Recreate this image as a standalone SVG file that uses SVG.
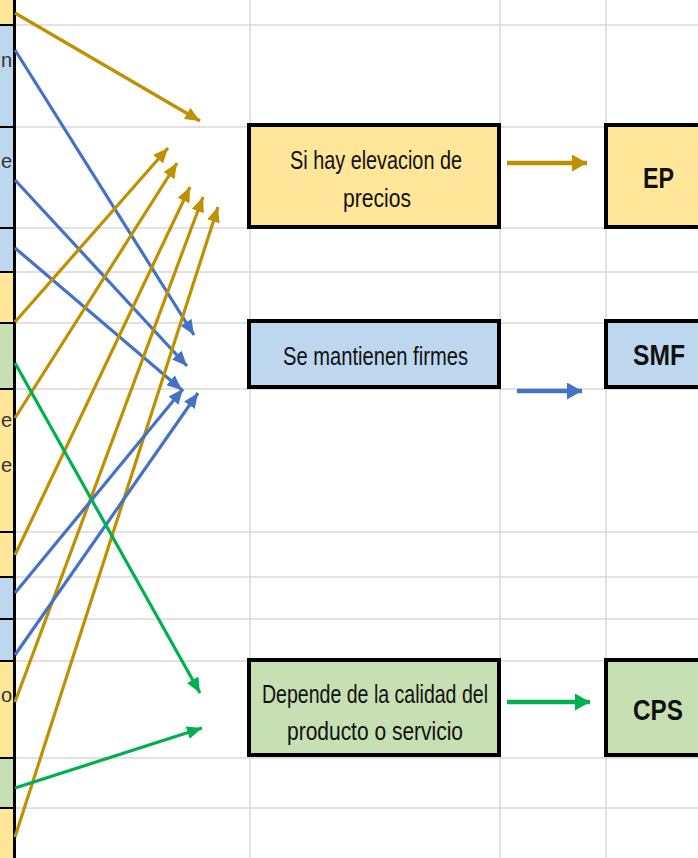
<svg xmlns="http://www.w3.org/2000/svg" width="698" height="858" viewBox="0 0 698 858">
<defs>
<style>
.grid{stroke:#D9D9D9;stroke-width:1.5;fill:none}
.cellb{stroke:#000;stroke-width:2}
.box{stroke:#000;stroke-width:4}
.y{fill:#FFE699}.b{fill:#BDD7EE}.g{fill:#C6E0B4}
.t{font-family:"Liberation Sans",Arial,sans-serif;font-size:26px;fill:#111;text-anchor:start}
.lb{font-family:"Liberation Sans",Arial,sans-serif;font-size:29px;font-weight:bold;fill:#111}
.frag{font-family:"Liberation Sans",Arial,sans-serif;font-size:20px;fill:#333;text-anchor:end}
.gold{stroke:#BF9000;stroke-width:3.2;fill:none}
.blue{stroke:#4472C4;stroke-width:3.2;fill:none}
.green{stroke:#00B050;stroke-width:3.2;fill:none}
.thick{stroke-width:4.5}
</style>
<marker id="ag" markerUnits="userSpaceOnUse" markerWidth="15" markerHeight="13" refX="15" refY="6.5" orient="auto"><path d="M0,0 L15,6.5 L0,13 z" fill="#BF9000"/></marker>
<marker id="ab" markerUnits="userSpaceOnUse" markerWidth="15" markerHeight="13" refX="15" refY="6.5" orient="auto"><path d="M0,0 L15,6.5 L0,13 z" fill="#4472C4"/></marker>
<marker id="an" markerUnits="userSpaceOnUse" markerWidth="15" markerHeight="13" refX="15" refY="6.5" orient="auto"><path d="M0,0 L15,6.5 L0,13 z" fill="#00B050"/></marker>
<marker id="agL" markerUnits="userSpaceOnUse" markerWidth="15" markerHeight="17" refX="15" refY="8.5" orient="auto"><path d="M0,0 L15,8.5 L0,17 z" fill="#BF9000"/></marker>
<marker id="abL" markerUnits="userSpaceOnUse" markerWidth="15" markerHeight="17" refX="15" refY="8.5" orient="auto"><path d="M0,0 L15,8.5 L0,17 z" fill="#4472C4"/></marker>
<marker id="anL" markerUnits="userSpaceOnUse" markerWidth="15" markerHeight="17" refX="15" refY="8.5" orient="auto"><path d="M0,0 L15,8.5 L0,17 z" fill="#00B050"/></marker>
</defs>
<rect x="0" y="0" width="698" height="858" fill="#fff"/>
<g id="grid" class="grid">
<path d="M14,25H698M14,127H698M14,228H698M14,272H698M14,323H698M14,389H698M14,532H698M14,577H698M14,619H698M14,661H698M14,758H698M14,808H698"/>
<path d="M250,0V858M500,0V858M606,0V858"/>
</g>
<g id="left-column">
<rect class="y" x="0" y="0" width="14" height="25"/>
<rect class="b" x="0" y="25" width="14" height="102"/>
<rect class="b" x="0" y="127" width="14" height="101"/>
<rect class="b" x="0" y="228" width="14" height="44"/>
<rect class="y" x="0" y="272" width="14" height="51"/>
<rect class="g" x="0" y="323" width="14" height="66"/>
<rect class="y" x="0" y="389" width="14" height="143"/>
<rect class="y" x="0" y="532" width="14" height="45"/>
<rect class="b" x="0" y="577" width="14" height="42"/>
<rect class="b" x="0" y="619" width="14" height="42"/>
<rect class="y" x="0" y="661" width="14" height="97"/>
<rect class="g" x="0" y="758" width="14" height="50"/>
<rect class="y" x="0" y="808" width="14" height="50"/>
<path class="cellb" d="M0,25H14M0,127H14M0,228H14M0,272H14M0,323H14M0,389H14M0,532H14M0,577H14M0,619H14M0,661H14M0,758H14M0,808H14"/>
<line x1="14.5" y1="0" x2="14.5" y2="858" stroke="#000" stroke-width="3"/>
<text class="frag" x="12" y="67">n</text>
<text class="frag" x="12" y="168">e</text>
<text class="frag" x="12" y="427">e</text>
<text class="frag" x="12" y="472">e</text>
<text class="frag" x="12" y="702">o</text>
</g>
<g id="connectors">
<line class="gold" x1="15" y1="13" x2="200" y2="121" marker-end="url(#ag)"/>
<line class="blue" x1="15" y1="50" x2="194" y2="335" marker-end="url(#ab)"/>
<line class="blue" x1="15" y1="180" x2="187" y2="366" marker-end="url(#ab)"/>
<line class="blue" x1="15" y1="248" x2="182" y2="390" marker-end="url(#ab)"/>
<line class="gold" x1="15" y1="322" x2="168" y2="148" marker-end="url(#ag)"/>
<line class="gold" x1="15" y1="418" x2="177" y2="163" marker-end="url(#ag)"/>
<line class="gold" x1="15" y1="555" x2="190" y2="187" marker-end="url(#ag)"/>
<line class="gold" x1="15" y1="702" x2="203" y2="197" marker-end="url(#ag)"/>
<line class="gold" x1="15" y1="837" x2="218" y2="207" marker-end="url(#ag)"/>
<line class="blue" x1="15" y1="593" x2="183" y2="389" marker-end="url(#ab)"/>
<line class="blue" x1="15" y1="655" x2="198" y2="393" marker-end="url(#ab)"/>
<line class="green" x1="15" y1="363" x2="200" y2="693" marker-end="url(#an)"/>
<line class="green" x1="15" y1="788" x2="202" y2="728" marker-end="url(#an)"/>
<line class="gold thick" x1="507" y1="163" x2="587" y2="163" marker-end="url(#agL)"/>
<line class="blue thick" x1="517" y1="391" x2="582" y2="391" marker-end="url(#abL)"/>
<line class="green thick" x1="507" y1="702" x2="590" y2="702" marker-end="url(#anL)"/>
</g>
<g id="node-elevacion">
<rect class="box y" x="249" y="125" width="250" height="102"/>
<text class="t" x="290" y="169" textLength="172" lengthAdjust="spacingAndGlyphs">Si hay elevacion de</text>
<text class="t" x="343" y="207" textLength="68" lengthAdjust="spacingAndGlyphs">precios</text>
</g>
<g id="node-ep">
<rect class="box y" x="606" y="125" width="100" height="102"/>
<text class="lb" x="643" y="188" textLength="31" lengthAdjust="spacingAndGlyphs">EP</text>
</g>
<g id="node-firmes">
<rect class="box b" x="249" y="321" width="250" height="66"/>
<text class="t" x="283" y="365" textLength="185" lengthAdjust="spacingAndGlyphs">Se mantienen firmes</text>
</g>
<g id="node-smf">
<rect class="box b" x="606" y="321" width="100" height="66"/>
<text class="lb" x="633" y="365" textLength="52" lengthAdjust="spacingAndGlyphs">SMF</text>
</g>
<g id="node-calidad">
<rect class="box g" x="249" y="660" width="250" height="95"/>
<text class="t" x="262" y="703" textLength="226" lengthAdjust="spacingAndGlyphs">Depende de la calidad del</text>
<text class="t" x="287" y="740" textLength="176" lengthAdjust="spacingAndGlyphs">producto o servicio</text>
</g>
<g id="node-cps">
<rect class="box g" x="606" y="660" width="100" height="95"/>
<text class="lb" x="633" y="720" textLength="50" lengthAdjust="spacingAndGlyphs">CPS</text>
</g>
</svg>
